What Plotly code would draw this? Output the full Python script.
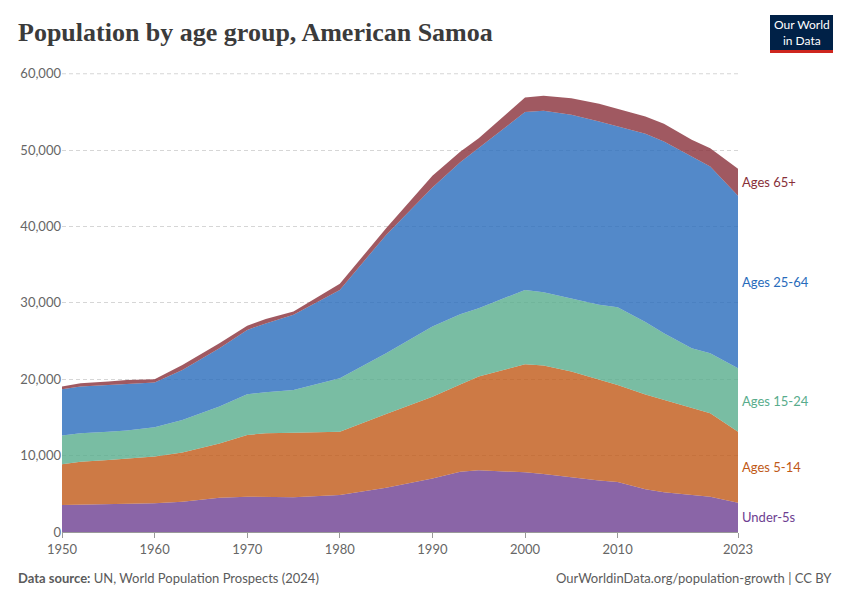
import plotly.graph_objects as go

years = [1950, 1952, 1955, 1957, 1960, 1963, 1967, 1970, 1972, 1975, 1980, 1985, 1990,
         1993, 1995, 2000, 2002, 2005, 2008, 2010, 2013, 2015, 2018, 2020, 2023]
under5 = [3540, 3600, 3670, 3700, 3750, 3970, 4500, 4630, 4630, 4540, 4850, 5800, 7000,
          7900, 8080, 7820, 7600, 7160, 6730, 6550, 5600, 5200, 4800, 4630, 3840]
ages5_14 = [5330, 5600, 5760, 5900, 6120, 6430, 7100, 8070, 8300, 8470, 8290, 9660, 10700,
            11400, 12270, 14150, 14200, 13840, 13170, 12710, 12400, 12090, 11500, 10920, 9300]
ages15_24 = [3750, 3730, 3710, 3700, 3840, 4270, 4820, 5330, 5370, 5590, 6990, 7940, 9200,
             9200, 8950, 9730, 9600, 9600, 9840, 10170, 9500, 8740, 7760, 7850, 8300]
ages25_64 = [6070, 6110, 6110, 6100, 5850, 6550, 7640, 8430, 9000, 9830, 11570, 15500, 18200,
             19900, 20960, 23280, 23750, 24030, 24020, 23670, 24640, 25110, 25110, 24460, 22580]
ages65 = [350, 440, 450, 510, 440, 660, 660, 530, 600, 440, 790, 880, 1550,
          1400, 1310, 1920, 1970, 2180, 2310, 2270, 2270, 2310, 2180, 2400, 3540]
y_ticks = [0, 10000, 20000, 30000, 40000, 50000, 60000]
x_ticks = [1950, 1960, 1970, 1980, 1990, 2000, 2010, 2023]

series = [
    ("Under-5s", under5, "#6D3E91"),
    ("Ages 5-14", ages5_14, "#C05917"),
    ("Ages 15-24", ages15_24, "#58AC8C"),
    ("Ages 25-64", ages25_64, "#286BBB"),
    ("Ages 65+", ages65, "#883039"),
]
label_y = {"Under-5s": 1900, "Ages 5-14": 8500, "Ages 15-24": 17200,
           "Ages 25-64": 32700, "Ages 65+": 45800}

def rgba(hx, a):
    h = hx.lstrip("#")
    return "rgba(%d,%d,%d,%.2f)" % (int(h[0:2], 16), int(h[2:4], 16), int(h[4:6], 16), a)

# page has an 8px body margin: work in figure coords = target - 8
W, H = 842, 592
L, T = 54, 65
PW, PH = 676, 459
R = W - L - PW
B = H - T - PH

def px(x):  # figure pixel x -> paper
    return (x - L) / PW

def py(y):  # figure pixel y -> paper
    return 1 - (y - T) / PH

fig = go.Figure()
for name, vals, col in series:
    fig.add_trace(go.Scatter(
        x=years, y=vals, name=name, mode="lines", stackgroup="one",
        line=dict(width=0, color=col), fillcolor=rgba(col, 0.8),
        hoverinfo="x+y+name"))

for name, vals, col in series:
    fig.add_annotation(x=1, xref="paper", y=label_y[name], yref="y", text=name,
                       showarrow=False, xanchor="left", xshift=2,
                       font=dict(family="Lato", size=13, color=col))

fig.update_layout(
    width=W, height=H,
    margin=dict(l=L, r=R, t=T, b=B, autoexpand=False),
    paper_bgcolor="white", plot_bgcolor="white",
    showlegend=False,
    font=dict(family="Lato", color="#666"),
    xaxis=dict(range=[1950, 2023], tickvals=x_ticks,
               showgrid=False, showline=True, linecolor="#999", linewidth=1,
               ticks="outside", ticklen=5, tickcolor="#999", automargin=False,
               tickfont=dict(family="Lato", size=13, color="#666"), zeroline=False),
    yaxis=dict(range=[0, 60100], tickvals=y_ticks,
               tickformat=",", showgrid=True, gridcolor="#d6d6d6", griddash="4px,3px", gridwidth=1,
               zeroline=False, showline=False, ticks="", automargin=False,
               tickfont=dict(family="Lato", size=13, color="#666")),
)

# top gridline (ensure visible)
fig.add_shape(type="line", xref="paper", yref="y", x0=0, x1=1, y0=y_ticks[-1], y1=y_ticks[-1],
              line=dict(color="#d6d6d6", width=1, dash="4px,3px"), layer="below")

# Title
fig.add_annotation(xref="paper", yref="paper", x=px(8), y=py(24),
                   text="<b>Population by age group, American Samoa</b>", showarrow=False,
                   xanchor="left", yanchor="middle",
                   font=dict(family="Liberation Serif", size=26, color="#3b3b3b"))

# Logo
fig.add_shape(type="rect", xref="paper", yref="paper",
              x0=px(762), x1=px(825), y0=py(42), y1=py(7),
              fillcolor="#002147", line=dict(width=0))
fig.add_shape(type="rect", xref="paper", yref="paper",
              x0=px(762), x1=px(825), y0=py(45), y1=py(42),
              fillcolor="#CE261E", line=dict(width=0))
fig.add_annotation(xref="paper", yref="paper", x=px(793.5), y=py(24.5),
                   text="Our World<br>in Data", showarrow=False, xanchor="center", yanchor="middle",
                   font=dict(family="Lato", size=12, color="white"))

# Footer
fig.add_annotation(xref="paper", yref="paper", x=px(8), y=py(570),
                   text="<b>Data source:</b> UN, World Population Prospects (2024)",
                   showarrow=False, xanchor="left", yanchor="middle",
                   font=dict(family="Lato", size=13, color="#5b5b5b"))
fig.add_annotation(xref="paper", yref="paper", x=px(826), y=py(570),
                   text="OurWorldinData.org/population-growth | CC BY",
                   showarrow=False, xanchor="right", yanchor="middle",
                   font=dict(family="Lato", size=13, color="#5b5b5b"))

fig.write_html("out.html")
